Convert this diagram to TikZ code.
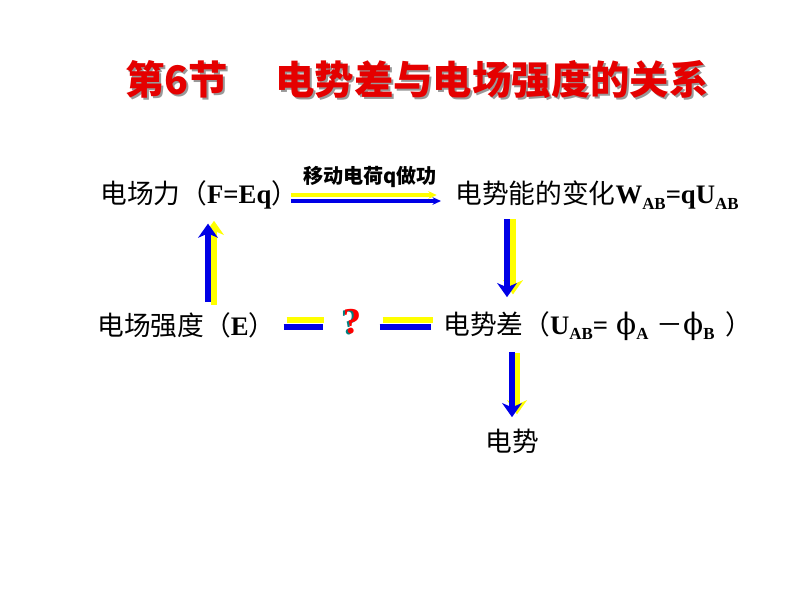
\documentclass[tikz,border=0pt]{standalone}
\usepackage{fontspec}
\setmainfont{Liberation Serif}
\newfontfamily\cjk{Noto Sans CJK SC}
\newfontfamily\phifont{DejaVu Serif}
\usetikzlibrary{arrows.meta, positioning}

\newcommand{\lowidx}[1]{\raisebox{-0.45ex}{\fontsize{12}{12}\selectfont\bfseries #1}}
\newcommand{\potphi}{{\phifont\fontsize{21}{22}\selectfont ϕ}}

\tikzset{
  body/.style={inner sep=0pt, anchor=west, font=\fontsize{19}{22}\selectfont},
  bluebar/.style={draw={rgb,255:red,0;green,0;blue,230}, line width=3.6pt},
  yellowbar/.style={draw={rgb,255:red,255;green,255;blue,0}, line width=3.6pt},
  bluearr/.style={bluebar, -{Stealth[length=10pt,width=14pt,inset=3pt]}},
  yellowarr/.style={yellowbar, -{Stealth[length=10pt,width=14pt,inset=3pt]}},
  thinblue/.style={bluebar, line width=2.4pt, -{Stealth[length=6pt,width=5.5pt]}},
  thinyellow/.style={yellowbar, line width=2.4pt, -{Stealth[length=6pt,width=5.5pt]}}
}

\begin{document}
\begin{tikzpicture}[x=0.025cm, y=-0.025cm]
\useasboundingbox (0,0) rectangle (800,600);

% title with its shadow
\node[text=black!40, font=\cjk\bfseries\fontsize{28}{32}\selectfont] (titleshadow) at (419,82) {第6节\hspace{1.2em}电势差与电场强度的关系};
\node[text=red!90!black, font=\cjk\bfseries\fontsize{28}{32}\selectfont] (title) at (417,80) {第6节\hspace{1.2em}电势差与电场强度的关系};

\node[body] (force) at (100,195) {{\cjk 电场力（}\textbf{F=Eq}{\cjk ）}};
\node[body] (work) at (455,195) {{\cjk 电势能的变化}\textbf{W\lowidx{AB}=qU\lowidx{AB}}};
\node[font=\cjk\bfseries\fontsize{14.3}{16}\selectfont] (label) at (370,177) {移动电荷q做功};
\node[body] (strength) at (97,325) {{\cjk 电场强度（}\textbf{E}{\cjk ）}};
\node[body] (diff) at (443,326) {{\cjk 电势差（}\textbf{U\lowidx{AB}=}\hspace{0.3em}\potphi\lowidx{A}\hspace{0.3em}{\cjk －}\potphi\lowidx{B}\hspace{0.4em}{\cjk ）}};
\node[inner sep=0pt, font=\cjk\fontsize{19}{22}\selectfont] (pot) at (512,441) {电势};
\node[inner sep=0pt, text=teal, font=\bfseries\fontsize{26}{28}\selectfont] (quesshadow) at (350,323) {?};
\node[inner sep=0pt, text=red, font=\bfseries\fontsize{26}{28}\selectfont] (ques) at (352,322) {?};

% force <- strength
\draw[yellowarr, shorten <=5pt, shorten >=8pt] (strength.north -| 214,0) -- (force.south -| 214,0);
\draw[bluearr, shorten <=7pt, shorten >=10pt] (strength.north -| 208,0) -- (force.south -| 208,0);

% force -> work
\draw[thinyellow, shorten <=-5pt, shorten >=13pt] (force.east |- 0,195) -- (work.west |- 0,195);
\draw[thinblue, shorten <=-5pt, shorten >=10pt] (force.east |- 0,201) -- (work.west |- 0,201);

% work -> diff
\draw[yellowarr, shorten <=7pt, shorten >=12pt] (work.south -| 513,0) -- (diff.north -| 513,0);
\draw[bluearr, shorten <=7pt, shorten >=10pt] (work.south -| 507,0) -- (diff.north -| 507,0);

% strength = ? = diff
\draw[yellowbar, shorten <=7.8pt, shorten >=13pt] (strength.east |- 0,320) -- (ques.west |- 0,320);
\draw[bluebar, shorten <=5.7pt, shorten >=14pt] (strength.east |- 0,327) -- (ques.west |- 0,327);
\draw[yellowbar, shorten <=15pt, shorten >=7pt] (ques.east |- 0,320) -- (diff.west |- 0,320);
\draw[bluebar, shorten <=13pt, shorten >=8.5pt] (ques.east |- 0,327) -- (diff.west |- 0,327);

% diff -> pot
\draw[yellowarr, shorten <=9pt, shorten >=10pt] (diff.south -| 517,0) -- (pot.north -| 517,0);
\draw[bluearr, shorten <=8pt, shorten >=8pt] (diff.south -| 512,0) -- (pot.north -| 512,0);

\end{tikzpicture}
\end{document}
